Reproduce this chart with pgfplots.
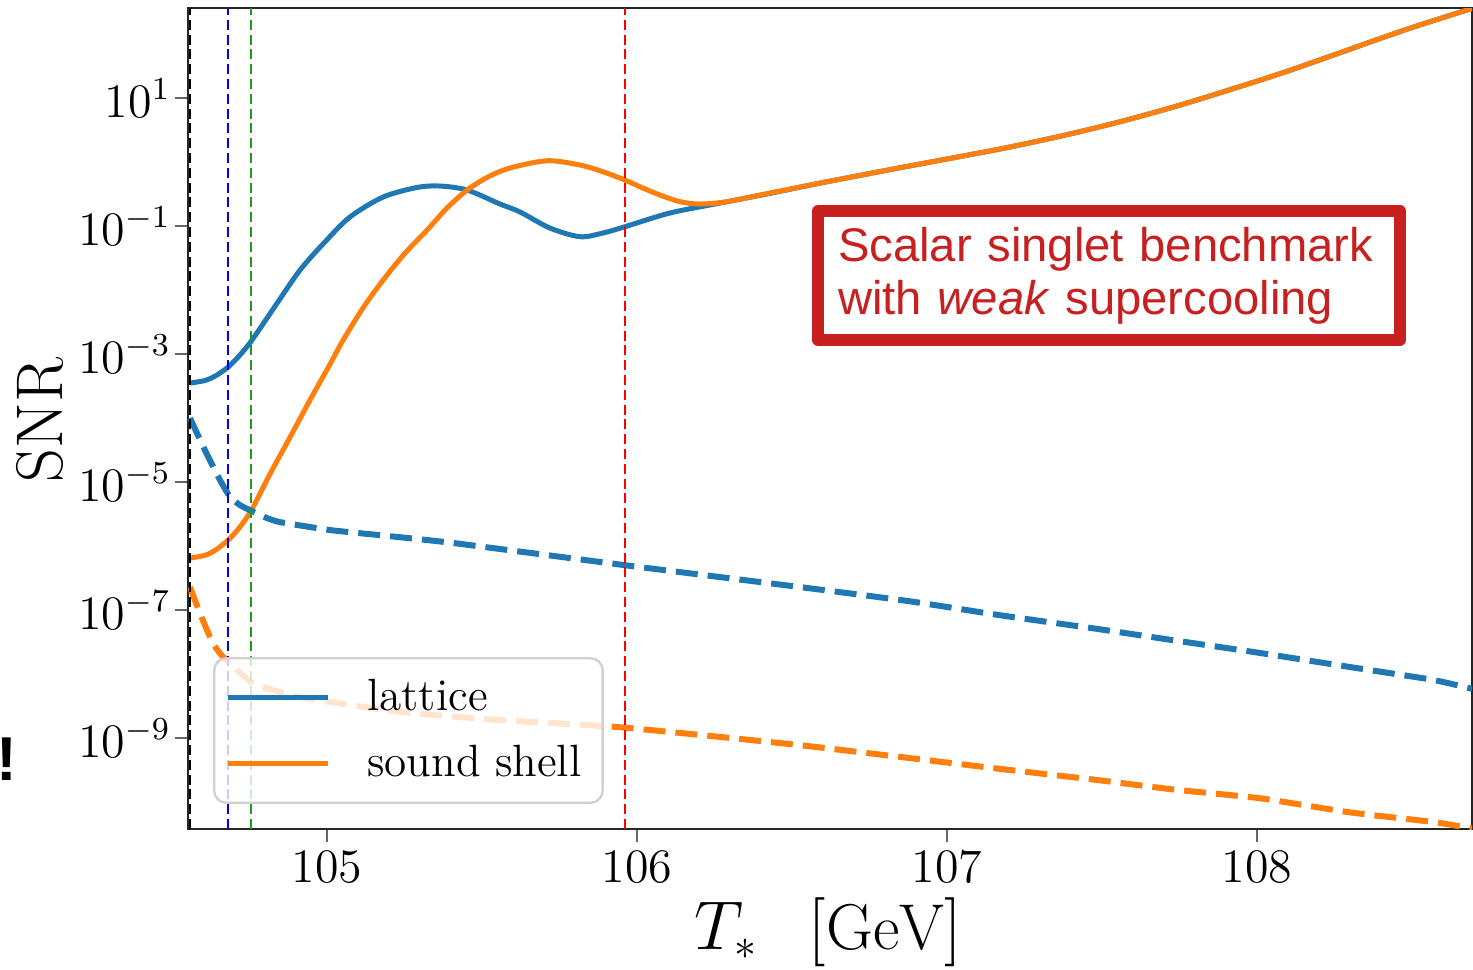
\documentclass[border=0pt]{standalone}
\usepackage{pgfplots}
\pgfplotsset{compat=1.18}
\usepackage{fontspec}
\newfontfamily\annfont{Liberation Sans}
\usetikzlibrary{calc}

\definecolor{mplblue}{HTML}{1F77B4}
\definecolor{mplorange}{HTML}{FF7F0E}
\definecolor{vgreen}{HTML}{1E9A1E}
\definecolor{annred}{HTML}{C8201E}

\begin{document}
\begin{tikzpicture}
\begin{axis}[
  scale only axis, width=321pt, height=205.25pt,
  ymode=log,
  xmin=104.5515, xmax=108.694, ymin=3.8e-11, ymax=254.7,
  xtick={105,106,107,108},
  ytick={1e1,1e-1,1e-3,1e-5,1e-7,1e-9},
  yminorticks=false, xminorticks=false,
  xtick pos=bottom, ytick pos=left,
  tick align=outside, major tick length=3.25pt,
  tick style={black!60, line width=0.6pt},
  axis line style={black!85, line width=0.6pt},
  ticklabel style={font=\fontsize{12}{14}\selectfont},
  yticklabel style={xshift=2.5pt},
  xticklabel style={yshift=1.25pt},
  xlabel={$T_*\hspace{12.7pt}[\mathrm{GeV}]$}, ylabel={SNR},
  every axis x label/.style={at={(rel axis cs:0.4984,-0.1255)}, anchor=center, font=\fontsize{16.2}{19}\selectfont},
  every axis y label/.style={at={(rel axis cs:-0.1153,0.498)}, anchor=center, rotate=90, font=\fontsize{16.5}{19}\selectfont},
  legend cell align=left,
  legend image code/.code={\draw[#1] (0pt,0pt) -- (25pt,0pt);},
  legend style={at={(rel axis cs:0.0195,0.2095)}, anchor=north west,
    draw=black!18, line width=0.6pt, rounded corners=3pt,
    fill=white, fill opacity=0.8, text opacity=1, draw opacity=1,
    font=\fontsize{11.3}{13}\selectfont,
    inner xsep=2.75pt, inner ysep=2.6pt, row sep=2.25pt, column sep=6.75pt,
    nodes={inner sep=2.5pt}},
]
% lattice, solid
\addplot[mplblue, line width=1.25pt, smooth, tension=0.5] coordinates {
(104.558,3.524e-4) (104.606,3.855e-4) (104.639,4.529e-4) (104.681,6.266e-4)
(104.719,9.638e-4) (104.758,1.656e-3) (104.835,5.834e-3) (104.913,2.054e-2)
(104.993,5.623e-2) (105.074,0.1384) (105.181,0.2838) (105.290,0.3999)
(105.364,0.4217) (105.452,0.3652) (105.558,0.2208) (105.623,0.1656)
(105.719,0.0931) (105.816,0.0681) (105.890,0.0778) (105.961,0.0975)
(106.106,0.1596) (106.268,0.2286) (106.429,0.3236)
(106.590,0.4677) (106.848,0.8128) (107.042,1.216) (107.203,1.714)
(107.381,2.630) (107.555,4.217) (107.735,7.328) (107.910,13.34)
(108.087,25.12) (108.264,50.12) (108.380,79.43) (108.500,125.9)
(108.590,173.8) (108.694,251.2)
};
\addlegendentry{lattice}
% sound shell, solid
\addplot[mplorange, line width=1.25pt, smooth, tension=0.5] coordinates {
(104.558,6.494e-7) (104.606,7.178e-7) (104.639,8.590e-7) (104.681,1.242e-6)
(104.719,1.982e-6) (104.758,3.784e-6) (104.816,1.334e-5) (104.881,5.047e-5)
(104.945,1.910e-4) (105.010,6.982e-4) (105.052,1.656e-3) (105.116,5.236e-3)
(105.181,1.432e-2) (105.252,3.784e-2) (105.323,8.660e-2) (105.387,0.1910)
(105.452,0.3652) (105.519,0.5834) (105.590,0.8054) (105.710,1.047)
(105.816,0.8974) (105.890,0.7047) (105.961,0.5236) (106.019,0.3926)
(106.074,0.3052) (106.139,0.2399) (106.203,0.2208) (106.290,0.2399)
(106.429,0.3281) (106.590,0.4677) (106.848,0.8128) (107.042,1.216)
(107.203,1.714) (107.381,2.630) (107.555,4.217) (107.735,7.328)
(107.910,13.34) (108.087,25.12) (108.264,50.12) (108.380,79.43)
(108.500,125.9) (108.590,173.8) (108.694,251.2)
};
\addlegendentry{sound shell}
% lattice, dashed
\addplot[mplblue, line width=1.5pt, dash pattern=on 5.5pt off 2.5pt, smooth, tension=0.3, forget plot] coordinates {
(104.558,1.0e-4) (104.606,3.16e-5) (104.655,1.07e-5) (104.687,5.89e-6)
(104.719,4.37e-6) (104.752,3.63e-6) (104.800,2.82e-6) (104.848,2.37e-6)
(105.010,1.78e-6) (105.171,1.48e-6) (105.406,1.12e-6) (105.964,5.01e-7)
(106.526,2.29e-7) (106.877,1.38e-7) (107.171,8.32e-8) (107.494,5.01e-8)
(107.729,3.39e-8) (108.010,2.14e-8) (108.300,1.29e-8) (108.568,8.13e-9)
(108.694,5.89e-9)
};
% sound shell, dashed
\addplot[mplorange, line width=1.5pt, dash pattern=on 5.5pt off 2.5pt, smooth, tension=0.3, forget plot] coordinates {
(104.558,2.29e-7) (104.590,8.91e-8) (104.632,3.02e-8) (104.664,1.86e-8)
(104.677,1.66e-8) (104.761,7.24e-9) (104.913,4.37e-9) (105.235,2.57e-9)
(105.558,1.91e-9) (105.945,1.48e-9) (106.526,7.76e-10) (107.171,3.31e-10)
(107.494,2.19e-10) (107.729,1.58e-10) (108.010,1.15e-10) (108.300,6.92e-11)
(108.568,4.90e-11) (108.694,3.89e-11)
};
% vertical markers
\addplot[black, line width=0.7pt, dash pattern=on 2.5pt off 1.2pt, forget plot] coordinates {(104.558,3.8e-11) (104.558,254.7)};
\addplot[blue, line width=0.6pt, dash pattern=on 2.5pt off 1.2pt, forget plot] coordinates {(104.681,3.8e-11) (104.681,254.7)};
\addplot[vgreen, line width=0.6pt, dash pattern=on 2.5pt off 1.2pt, forget plot] coordinates {(104.755,3.8e-11) (104.755,254.7)};
\addplot[red, line width=0.6pt, dash pattern=on 2.5pt off 1.2pt, forget plot] coordinates {(105.961,3.8e-11) (105.961,254.7)};

\node[draw=annred, line width=3pt, line join=round, fill=white, text=annred,
  font=\annfont\fontsize{11.8}{13.25}\selectfont, align=left,
  text width=135.5pt, inner xsep=5pt, inner ysep=0pt, minimum height=32.25pt]
  at (rel axis cs:0.7173,0.6742) {Scalar singlet benchmark\\with \textit{weak} supercooling};
\end{axis}
\node[font=\annfont\bfseries\fontsize{15.5}{17}\selectfont] at ($(current axis.south west)+(-45.25pt,17.5pt)$) {!};
\pgfresetboundingbox
\path ($(current axis.south west)+(-47pt,-35pt)$) rectangle ($(current axis.north east)+(0.25pt,2pt)$);
\end{tikzpicture}
\end{document}
